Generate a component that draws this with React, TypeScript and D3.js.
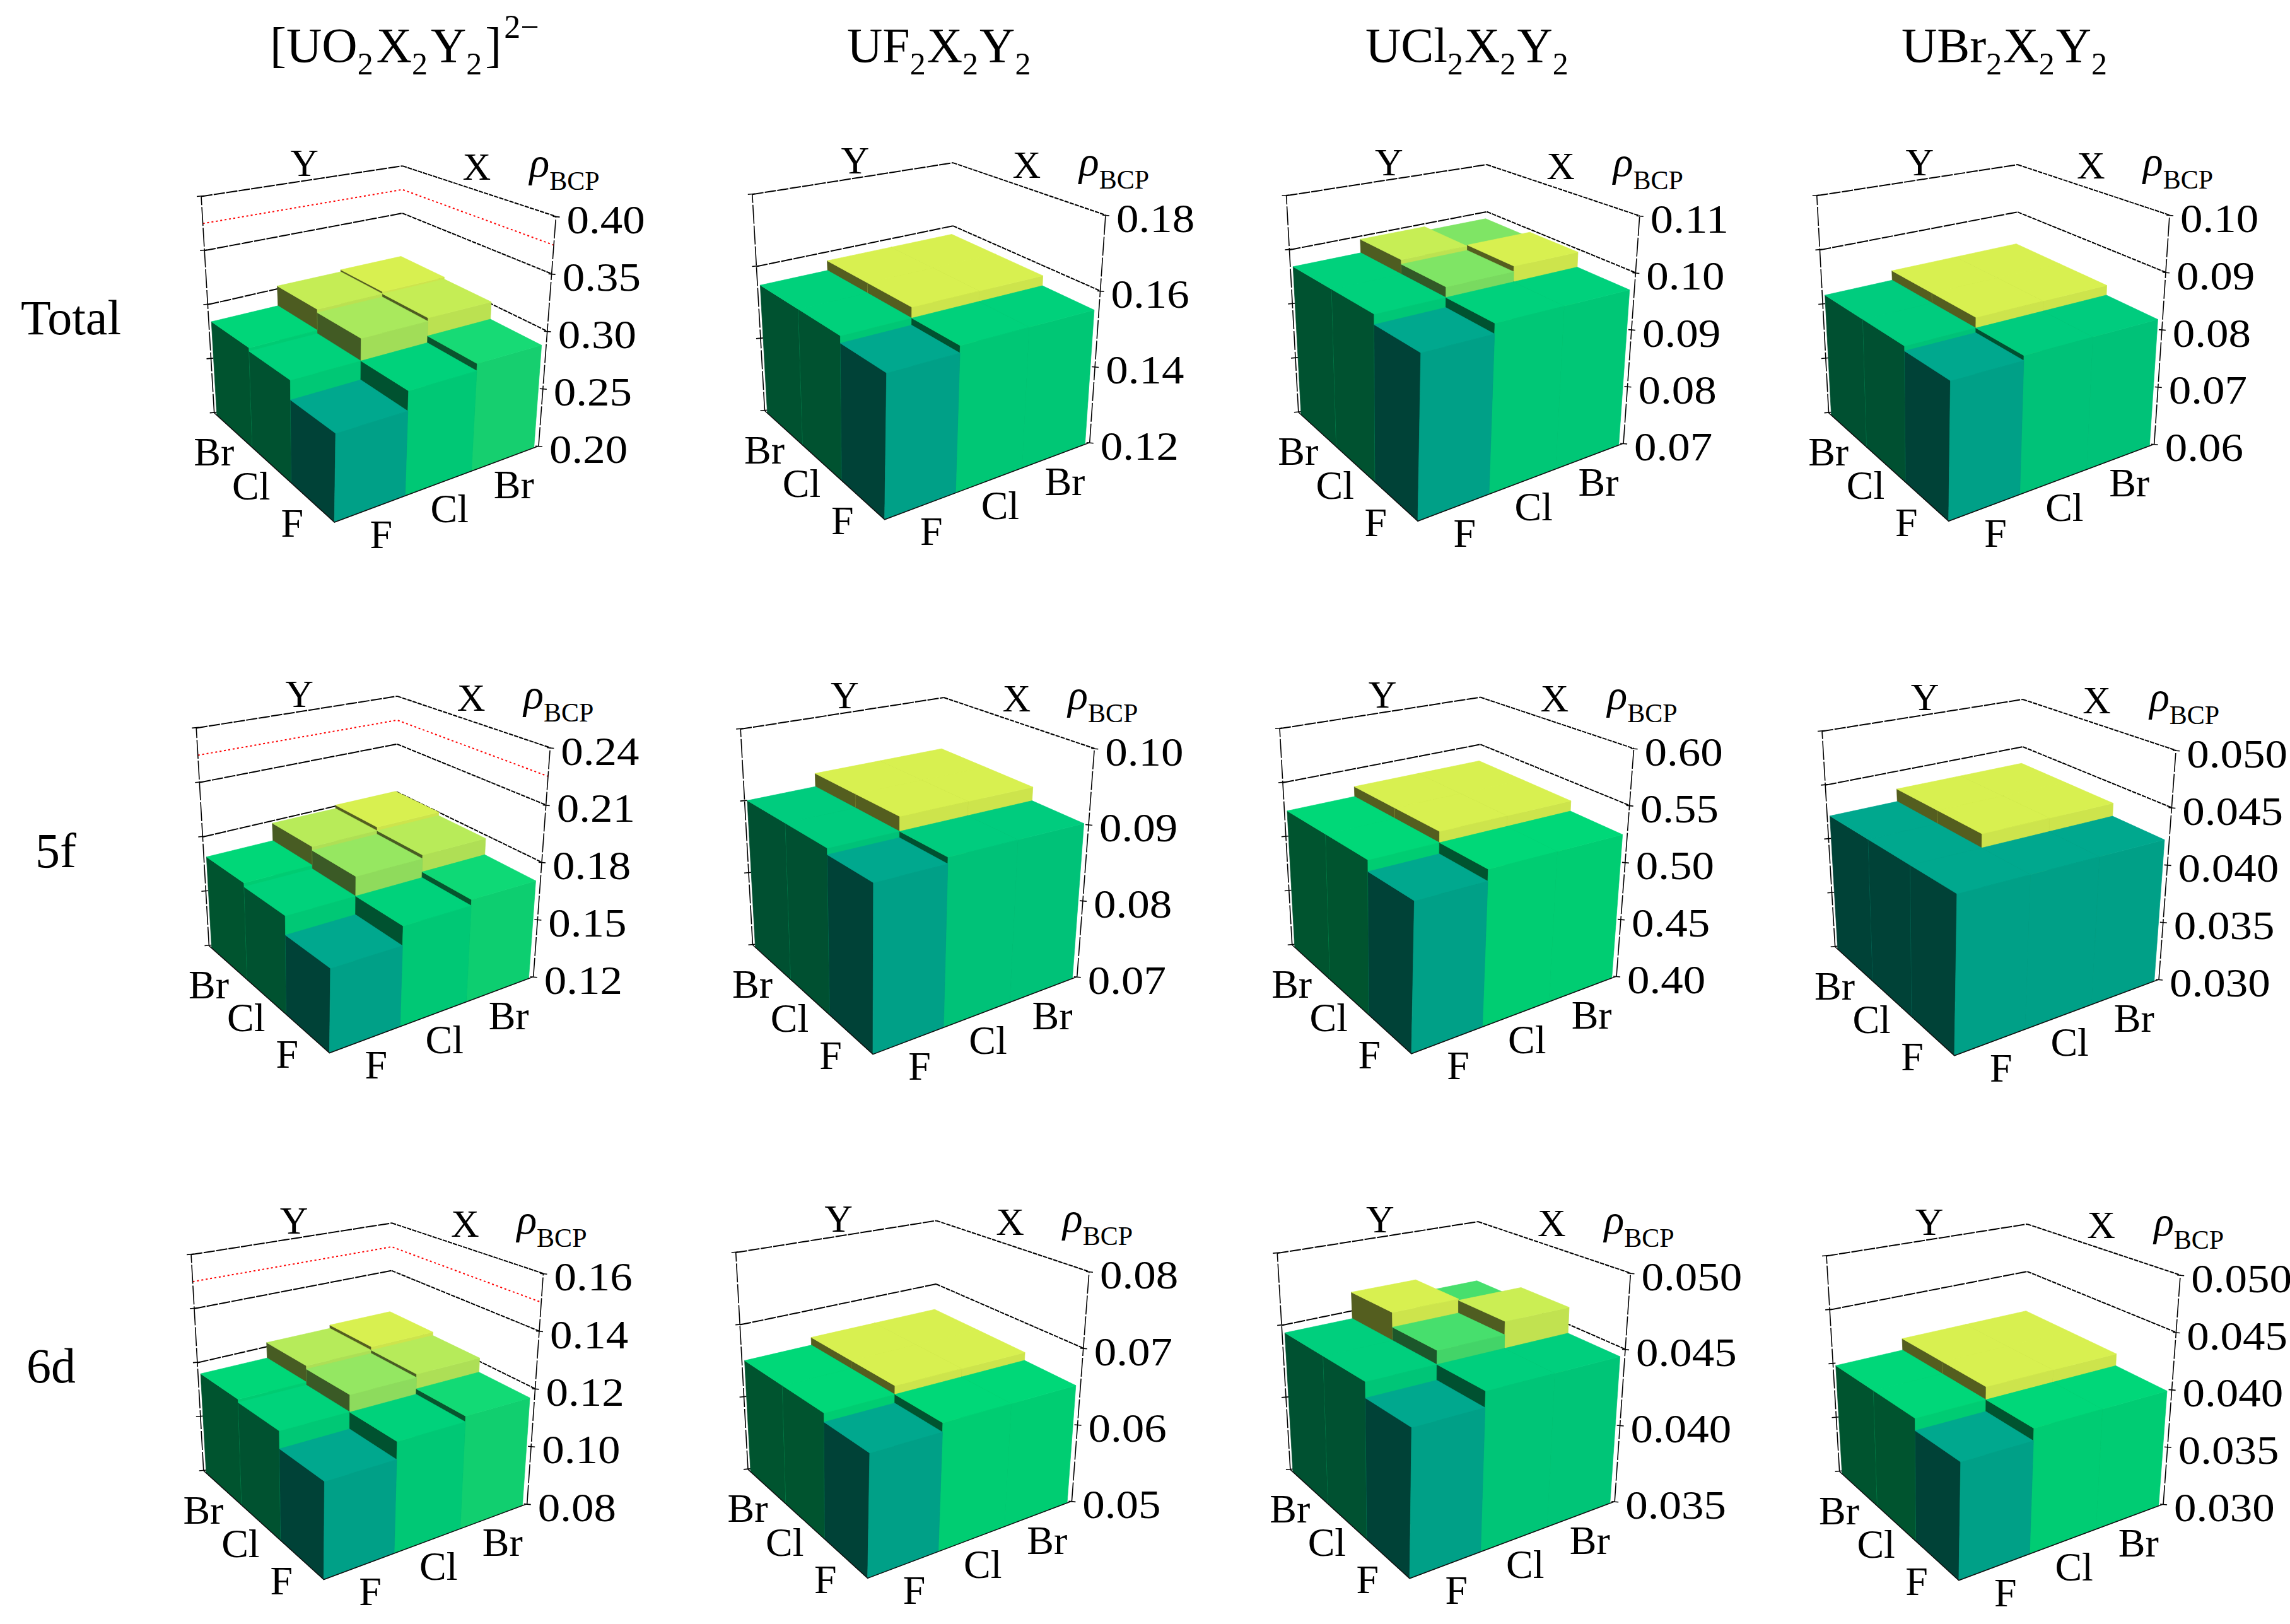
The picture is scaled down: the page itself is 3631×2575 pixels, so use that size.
import React from 'react';
import * as d3 from 'd3';

type Pt = [number, number];

const halides = ['F', 'Cl', 'Br'];
const columnTitles = ['UO', 'UF', 'UCl', 'UBr'];
const rowLabels = ['Total', '5f', '6d'];

// bar heights, indexed [Y][X] with F, Cl, Br order
const totalUO2 = [[0.267, 0.283, 0.289], [0.283, 0.302, 0.305], [0.286, 0.305, 0.307]];
const totalUF2 = [[0.1535, 0.1553, 0.1553], [0.1553, 0.1581, 0.1581], [0.1553, 0.1581, 0.1581]];
const totalUCl2 = [[0.0955, 0.0972, 0.0972], [0.0972, 0.099, 0.1], [0.0972, 0.0998, 0.099]];
const totalUBr2 = [[0.0812, 0.082, 0.082], [0.082, 0.0838, 0.0838], [0.082, 0.0838, 0.0838]];
const f5UO2 = [[0.1586, 0.168, 0.171], [0.168, 0.178, 0.18], [0.17, 0.18, 0.182]];
const f5UF2 = [[0.0895, 0.0903, 0.0903], [0.0903, 0.0922, 0.0922], [0.0903, 0.0922, 0.0922]];
const f5UCl2 = [[0.516, 0.5255, 0.5255], [0.5255, 0.535, 0.535], [0.5255, 0.535, 0.535]];
const f5UBr2 = [[0.0423, 0.0423, 0.0423], [0.0423, 0.0435, 0.0435], [0.0423, 0.0435, 0.0435]];
const d6UO2 = [[0.1097, 0.1154, 0.1173], [0.1155, 0.1213, 0.1225], [0.1166, 0.1225, 0.1238]];
const d6UF2 = [[0.0642, 0.0653, 0.0653], [0.0653, 0.0664, 0.0664], [0.0653, 0.0664, 0.0664]];
const d6UCl2 = [[0.0436, 0.0446, 0.0446], [0.0446, 0.0455, 0.0464], [0.0446, 0.0465, 0.0455]];
const d6UBr2 = [[0.039, 0.04, 0.04], [0.04, 0.0411, 0.0411], [0.04, 0.0411, 0.0411]];

const ticksA = [0.2, 0.25, 0.3, 0.35, 0.4];
const ticksB = [0.12, 0.14, 0.16, 0.18];
const ticksC = [0.07, 0.08, 0.09, 0.1, 0.11];
const ticksD = [0.06, 0.07, 0.08, 0.09, 0.1];
const ticksE = [0.12, 0.15, 0.18, 0.21, 0.24];
const ticksF = [0.07, 0.08, 0.09, 0.1];
const ticksG = [0.4, 0.45, 0.5, 0.55, 0.6];
const ticksH = [0.03, 0.035, 0.04, 0.045, 0.05];
const ticksI = [0.08, 0.1, 0.12, 0.14, 0.16];
const ticksJ = [0.05, 0.06, 0.07, 0.08];
const ticksK = [0.035, 0.04, 0.045, 0.05];

// box outline of each panel, measured in 720x660 crops shown at 1568x1568
const boxUnitX = 720 / 1568;
const boxUnitY = 660 / 1568;
const panels = [
  { values: totalUO2, ticks: ticksA, digits: 2, grid: [0.35, 0.3], red: 0.375, origin: [280, 200], tl: [85, 265], tb: [780, 150], tr: [1310, 340], l: [130, 1080], f: [545, 1492], r: [1250, 1205] },
  { values: totalUF2, ticks: ticksB, digits: 2, grid: [0.16], origin: [1140, 200], tl: [115, 257], tb: [808, 138], tr: [1335, 335], l: [158, 1072], f: [572, 1482], r: [1280, 1192] },
  { values: totalUCl2, ticks: ticksC, digits: 2, grid: [0.1], origin: [1990, 200], tl: [108, 262], tb: [800, 145], tr: [1328, 338], l: [150, 1078], f: [562, 1488], r: [1272, 1195] },
  { values: totalUBr2, ticks: ticksD, digits: 2, grid: [0.09], origin: [2850, 200], tl: [67, 262], tb: [760, 145], tr: [1285, 335], l: [108, 1080], f: [522, 1488], r: [1232, 1198] },
  { values: f5UO2, ticks: ticksE, digits: 2, grid: [0.21, 0.18], red: 0.225, origin: [280, 1050], tl: [68, 248], tb: [762, 128], tr: [1290, 322], l: [112, 1068], f: [528, 1472], r: [1232, 1185] },
  { values: f5UF2, ticks: ticksF, digits: 2, grid: [], origin: [1120, 1050], tl: [118, 252], tb: [820, 133], tr: [1340, 325], l: [160, 1065], f: [575, 1477], r: [1280, 1185] },
  { values: f5UCl2, ticks: ticksG, digits: 2, grid: [0.55], origin: [1990, 1050], tl: [85, 250], tb: [778, 132], tr: [1308, 325], l: [128, 1065], f: [540, 1475], r: [1248, 1183] },
  { values: f5UBr2, ticks: ticksH, digits: 3, grid: [0.045], origin: [2850, 1050], tl: [85, 260], tb: [778, 140], tr: [1307, 332], l: [130, 1072], f: [542, 1482], r: [1248, 1195] },
  { values: d6UO2, ticks: ticksI, digits: 2, grid: [0.14, 0.12], red: 0.15, origin: [270, 1890], tl: [72, 236], tb: [765, 117], tr: [1288, 307], l: [115, 1050], f: [530, 1460], r: [1232, 1175] },
  { values: d6UF2, ticks: ticksJ, digits: 2, grid: [0.07], origin: [1130, 1890], tl: [80, 228], tb: [772, 108], tr: [1300, 300], l: [122, 1045], f: [535, 1455], r: [1240, 1165] },
  { values: d6UCl2, ticks: ticksK, digits: 3, grid: [0.045], origin: [2000, 1900], tl: [55, 207], tb: [748, 88], tr: [1275, 282], l: [100, 1022], f: [512, 1432], r: [1220, 1142] },
  { values: d6UBr2, ticks: ticksH, digits: 3, grid: [0.045], origin: [2857, 1882], tl: [85, 260], tb: [778, 140], tr: [1307, 332], l: [130, 1072], f: [542, 1482], r: [1248, 1195] },
];

// perspective weights along X and Y for the hidden box corners
const wu = 0.1;
const wv = 0.16;

const colorRamp = d3.scaleLinear<string>()
  .domain([0, 0.3, 0.5, 0.85, 1])
  .range(['#00a88e', '#00cc7e', '#00d878', '#a0e860', '#d8f050'])
  .interpolate(d3.interpolateRgb);

const barBand = d3.scaleBand<number>().domain([0, 1, 2]).range([0, 0.975]);
const lineGen = d3.line();
const serif = '"Liberation Serif", serif';

const mix = (a: Pt, b: Pt, t: number): Pt => [a[0] + (b[0] - a[0]) * t, a[1] + (b[1] - a[1]) * t];

// unit square to quad (corners p00, p10, p01, p11)
function quadMap(p00: Pt, p10: Pt, p01: Pt, p11: Pt, u: number, v: number): Pt {
  const sx = p00[0] - p10[0] + p11[0] - p01[0];
  const sy = p00[1] - p10[1] + p11[1] - p01[1];
  const dx1 = p10[0] - p11[0];
  const dy1 = p10[1] - p11[1];
  const dx2 = p01[0] - p11[0];
  const dy2 = p01[1] - p11[1];
  const det = dx1 * dy2 - dx2 * dy1;
  const g = (sx * dy2 - dx2 * sy) / det;
  const h = (dx1 * sy - sx * dy1) / det;
  const w = g * u + h * v + 1;
  return [
    ((p10[0] - p00[0] + g * p10[0]) * u + (p01[0] - p00[0] + h * p01[0]) * v + p00[0]) / w,
    ((p10[1] - p00[1] + g * p10[1]) * u + (p01[1] - p00[1] + h * p01[1]) * v + p00[1]) / w,
  ];
}

function makeProjection(p: any) {
  const toPage = (q: number[]): Pt => [p.origin[0] + q[0] * boxUnitX, p.origin[1] + q[1] * boxUnitY];
  const F = toPage(p.f);
  const R = toPage(p.r);
  const L = toPage(p.l);
  const TL = toPage(p.tl);
  const TR = toPage(p.tr);
  const TB = toPage(p.tb);
  const B: Pt = [0, 1].map(k => ((1 + wu) * R[k] + (1 + wv) * L[k] - F[k]) / (1 + wu + wv)) as Pt;
  const T: Pt = [0, 1].map(k => (1 + wu) * TR[k] + (1 + wv) * TL[k] - (1 + wu + wv) * TB[k]) as Pt;
  return (u: number, v: number, z: number): Pt =>
    quadMap(mix(F, T, z), mix(R, TR, z), mix(L, TL, z), mix(B, TB, z), u, v);
}

const Face = ({ pts, fill }: { pts: Pt[]; fill: string }) => (
  <path d={lineGen(pts) + 'Z'} fill={fill} stroke={fill} strokeWidth={0.7} />
);

const Panel = ({ p }: { p: any }) => {
  const project = makeProjection(p);
  const zScale = d3.scaleLinear().domain(d3.extent(p.ticks) as [number, number]).range([0, 1]);
  const flat: number[] = p.values.flat();
  const tone = d3.scaleLinear().domain(d3.extent(flat) as [number, number]).range([0, 1]);
  const width = barBand.bandwidth();

  const back = (z: number): Pt[] => [project(0, 1, z), project(1, 1, z), project(1, 0, z)];
  const top = d3.max(p.ticks) as number;

  const bars: React.ReactNode[] = [];
  // back to front, so nearer bars cover farther ones
  for (const j of [2, 1, 0]) {
    for (const i of [2, 1, 0]) {
      const value = p.values[j][i];
      const z = zScale(value);
      const u0 = barBand(i) as number;
      const v0 = barBand(j) as number;
      const u1 = u0 + width;
      const v1 = v0 + width;
      const base = d3.rgb(colorRamp(tone(value)));
      const shade = (k: number) => d3.rgb(base.r * k, base.g * k, base.b * k).formatRgb();
      bars.push(
        <g key={`${i}-${j}`}>
          <Face fill={shade(0.39)} pts={[project(u0, v0, 0), project(u0, v1, 0), project(u0, v1, z), project(u0, v0, z)]} />
          <Face fill={shade(0.95)} pts={[project(u0, v0, 0), project(u1, v0, 0), project(u1, v0, z), project(u0, v0, z)]} />
          <Face fill={base.formatRgb()} pts={[project(u0, v0, z), project(u1, v0, z), project(u1, v1, z), project(u0, v1, z)]} />
        </g>
      );
    }
  }

  const tlTop = project(0, 1, 1);
  const tbTop = project(1, 1, 1);
  const trTop = project(1, 0, 1);
  const tickEm = p.digits === 3 ? 2.25 : 1.75;

  return (
    <g>
      {/* back walls */}
      {[top, ...p.grid].map((g: number) => {
        const pts = back(zScale(g));
        return (
          <g key={g} fill="none" stroke="#000" strokeWidth={2}>
            <path d={lineGen(pts.slice(0, 2)) as string} strokeDasharray="18 2" />
            <path d={lineGen(pts.slice(1)) as string} strokeDasharray="7 1.5" />
          </g>
        );
      })}
      {p.red !== undefined && (
        <path d={lineGen(back(zScale(p.red))) as string} fill="none" stroke="#f00" strokeWidth={2} strokeDasharray="3 4" />
      )}
      <path d={lineGen([project(0, 1, 0), project(0, 1, 1)]) as string} stroke="#000" strokeWidth={1.6} strokeDasharray="30 3" fill="none" />
      <path d={lineGen([project(1, 0, 0), project(1, 0, 1)]) as string} stroke="#000" strokeWidth={1.6} strokeDasharray="30 3" fill="none" />

      {p.ticks.map((t: number) => {
        const zt = zScale(t);
        const a = project(1, 0, zt);
        const b = project(0, 1, zt);
        return (
          <g key={t}>
            <path d={lineGen([[a[0] - 5, a[1]], [a[0] + 6, a[1] + 1]]) as string} stroke="#000" strokeWidth={1.6} />
            <path d={lineGen([[b[0] - 7, b[1]], [b[0] + 4, b[1] - 1]]) as string} stroke="#000" strokeWidth={1.6} />
            <text x={a[0] + 17} y={a[1] + 27} fontFamily={serif} fontSize={64} textLength={tickEm * 71} lengthAdjust="spacingAndGlyphs" fill="#000">
              {t.toFixed(p.digits)}
            </text>
          </g>
        );
      })}

      {bars}

      {/* front bottom edges */}
      <path d={lineGen([project(0, 1, 0), project(0, 0, 0), project(1, 0, 0)]) as string} fill="none" stroke="#111" strokeWidth={1.6} />

      {halides.map((name, k) => {
        const c = (barBand(k) as number) + width / 2;
        const yPos = project(0, c, 0);
        const xPos = project(c, 0, 0);
        return (
          <g key={name} fontFamily={serif} fontSize={64} fill="#000" textAnchor="middle">
            <text x={yPos[0] - 32} y={yPos[1] + 55}>{name}</text>
            <text x={xPos[0] + 17} y={xPos[1] + 62}>{name}</text>
          </g>
        );
      })}

      <text x={(tlTop[0] + tbTop[0]) / 2 + 4} y={(tlTop[1] + tbTop[1]) / 2 - 8} fontFamily={serif} fontSize={62} textAnchor="middle">Y</text>
      <text x={(tbTop[0] + trTop[0]) / 2 - 4} y={(tbTop[1] + trTop[1]) / 2 - 18} fontFamily={serif} fontSize={62} textAnchor="middle">X</text>
      <text x={trTop[0] - 42} y={trTop[1] - 63} fontFamily={serif} fontSize={66}>
        <tspan fontStyle="italic">ρ</tspan>
        <tspan fontSize={42} dy={21}>BCP</tspan>
      </text>
    </g>
  );
};

const Title = ({ lead, x, charge }: { lead: string; x: number; charge?: boolean }) => {
  const gap = charge ? 5 : 2;
  return (
    <text x={x} y={98} fontFamily={serif} fontSize={78} fill="#000">
      {charge ? '[' : ''}{lead}
      <tspan fontSize={50} dy={20}>2</tspan>
      <tspan dy={-20} dx={gap}>X</tspan>
      <tspan fontSize={50} dy={20}>2</tspan>
      <tspan dy={-20} dx={gap}>Y</tspan>
      <tspan fontSize={50} dy={20}>2</tspan>
      {charge && <tspan dy={-20} dx={gap}>]</tspan>}
      {charge && <tspan fontSize={52} dy={-38} dx={4}>2−</tspan>}
    </text>
  );
};

const titleX = [428, 1343, 2165, 3015];
const rowLabelX = [33, 56, 42];
const rowLabelY = [530, 1375, 2192];

const App = () => (
  <svg width={3631} height={2575} style={{ position: 'absolute', left: 0, top: 0, background: '#fff' }}>
    {columnTitles.map((t, i) => (
      <Title key={t} lead={t} x={titleX[i]} charge={i === 0} />
    ))}
    {rowLabels.map((t, i) => (
      <text key={t} x={rowLabelX[i]} y={rowLabelY[i]} fontFamily={serif} fontSize={78} fill="#000">{t}</text>
    ))}
    {panels.map((p, i) => <Panel key={i} p={p} />)}
  </svg>
);

export default App;
